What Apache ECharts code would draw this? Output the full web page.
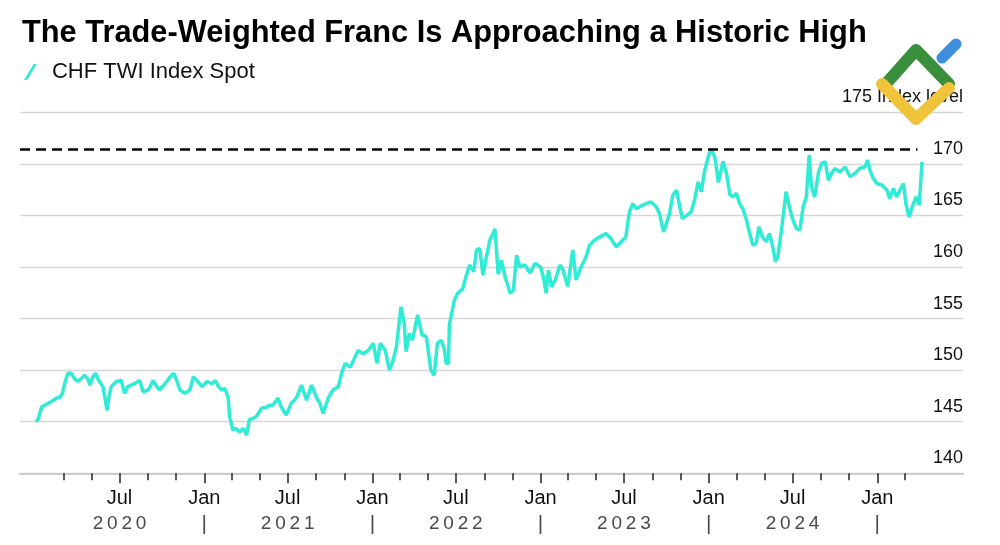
<!DOCTYPE html>
<html>
<head>
<meta charset="utf-8">
<script src="https://cdn.jsdelivr.net/npm/echarts@6/dist/echarts.min.js"></script>
<style>
html,body{margin:0;padding:0;background:#fff;}
#chart{width:1000px;height:545px;}
</style>
</head>
<body>
<div id="chart"></div>
<script>
// ---- data ----
const title = 'The Trade-Weighted Franc Is Approaching a Historic High';
const seriesName = 'CHF TWI Index Spot';
const historicHigh = 171.4;
const dates = [
'2020-01-02','2020-01-07','2020-01-14','2020-01-21','2020-02-02','2020-02-09','2020-02-16','2020-02-23','2020-02-28','2020-03-04',
'2020-03-11','2020-03-18','2020-03-25','2020-04-02','2020-04-09','2020-04-16','2020-04-23','2020-04-28','2020-05-04','2020-05-10',
'2020-05-17','2020-05-26','2020-06-01','2020-06-04','2020-06-08','2020-06-13','2020-06-24','2020-07-05','2020-07-12','2020-07-19',
'2020-08-03','2020-08-14','2020-08-21','2020-09-02','2020-09-12','2020-09-20','2020-09-26','2020-10-08','2020-10-19','2020-10-27',
'2020-11-02','2020-11-09','2020-11-20','2020-12-01','2020-12-08','2020-12-16','2020-12-27','2021-01-07','2021-01-18','2021-01-25',
'2021-02-01','2021-02-08','2021-02-15','2021-02-22','2021-02-25','2021-03-04','2021-03-11','2021-03-19','2021-03-26','2021-04-03',
'2021-04-09','2021-04-16','2021-04-24','2021-05-05','2021-05-16','2021-05-23','2021-05-30','2021-06-10','2021-06-17','2021-06-28',
'2021-07-09','2021-07-20','2021-07-31','2021-08-11','2021-08-22','2021-09-02','2021-09-09','2021-09-16','2021-09-27','2021-10-08',
'2021-10-19','2021-10-26','2021-11-03','2021-11-14','2021-11-21','2021-12-01','2021-12-12','2021-12-23','2022-01-03','2022-01-11',
'2022-01-18','2022-01-29','2022-02-07','2022-02-15','2022-02-22','2022-03-04','2022-03-11','2022-03-15','2022-03-22','2022-03-29',
'2022-04-09','2022-04-19','2022-04-28','2022-05-08','2022-05-15','2022-05-22','2022-05-30','2022-06-06','2022-06-10','2022-06-15',
'2022-06-17','2022-06-28','2022-07-05','2022-07-16','2022-07-23','2022-07-31','2022-08-09','2022-08-15','2022-08-22','2022-08-29',
'2022-09-06','2022-09-13','2022-09-24','2022-10-01','2022-10-08','2022-10-16','2022-10-27','2022-11-03','2022-11-10','2022-11-17',
'2022-11-28','2022-12-09','2022-12-20','2023-01-01','2023-01-07','2023-01-13','2023-01-18','2023-01-25','2023-02-02','2023-02-12',
'2023-02-19','2023-03-01','2023-03-12','2023-03-19','2023-03-30','2023-04-10','2023-04-17','2023-04-28','2023-05-09','2023-05-23',
'2023-06-03','2023-06-14','2023-06-25','2023-07-05','2023-07-13','2023-07-20','2023-07-28','2023-08-08','2023-08-18','2023-08-29',
'2023-09-09','2023-09-16','2023-09-25','2023-10-01','2023-10-08','2023-10-15','2023-10-23','2023-10-30','2023-11-05','2023-11-14',
'2023-11-24','2023-12-02','2023-12-09','2023-12-16','2023-12-23','2024-01-02','2024-01-07','2024-01-11','2024-01-15','2024-01-22',
'2024-02-01','2024-02-09','2024-02-16','2024-02-23','2024-03-01','2024-03-08','2024-03-15','2024-03-23','2024-03-30','2024-04-06',
'2024-04-13','2024-04-19','2024-04-27','2024-05-05','2024-05-12','2024-05-19','2024-05-25','2024-05-30','2024-06-07','2024-06-17',
'2024-06-24','2024-07-02','2024-07-09','2024-07-17','2024-07-24','2024-07-31','2024-08-06','2024-08-11','2024-08-18','2024-08-26',
'2024-09-02','2024-09-10','2024-09-17','2024-09-24','2024-10-01','2024-10-12','2024-10-23','2024-11-03','2024-11-14','2024-11-24',
'2024-12-05','2024-12-11','2024-12-16','2024-12-23','2024-12-31','2025-01-11','2025-01-22','2025-01-28','2025-02-05','2025-02-12',
'2025-02-19','2025-02-27','2025-03-04','2025-03-11','2025-03-18','2025-03-26','2025-04-02','2025-04-08'
];
const values = [
145.0,145.3,146.45,146.6,146.9,147.1,147.3,147.4,147.75,148.7,
149.7,149.7,149.2,148.9,149.2,149.5,149.2,148.55,149.35,149.7,
149.0,148.4,146.9,146.1,147.4,148.4,148.9,149.0,147.75,148.4,
148.7,149.0,147.9,148.1,149.0,148.4,148.1,148.7,149.35,149.7,
149.0,148.1,147.75,148.1,149.35,149.0,148.4,148.9,148.7,149.0,
148.4,148.1,148.2,147.3,145.5,144.2,144.35,144.0,144.35,143.7,
145.2,145.3,145.5,146.3,146.4,146.6,146.6,147.3,146.45,145.65,
146.8,147.3,148.55,147.1,148.55,147.3,146.8,145.8,147.3,148.1,
148.4,149.7,150.65,150.3,150.95,151.9,151.6,151.9,152.6,150.65,
152.6,151.9,150.0,150.95,152.25,156.15,154.55,151.8,153.55,152.9,
155.35,153.4,153.25,150.0,149.5,152.6,152.9,152.1,150.65,150.65,
154.4,156.8,157.45,157.9,159.05,160.2,159.55,161.65,161.8,159.2,
161.1,162.6,163.7,159.3,160.65,159.05,157.45,157.75,161.15,160.0,
160.2,159.4,160.35,160.0,159.05,157.45,159.7,158.1,158.75,160.2,
159.7,158.1,161.65,158.75,160.0,161.0,162.1,162.6,162.9,163.25,
162.75,161.95,162.45,162.9,165.35,166.15,165.65,165.95,166.15,166.3,
165.85,165.2,163.4,164.2,165.2,166.95,167.45,165.85,164.7,165.0,
165.35,166.65,168.25,167.3,169.3,171.0,171.4,171.0,170.5,168.2,
170.25,169.0,167.0,166.8,167.15,166.15,165.65,164.55,163.25,162.1,
162.3,163.9,162.9,162.45,163.25,161.95,160.5,161.0,163.6,167.3,
165.85,164.55,163.75,163.6,165.85,166.8,170.85,167.8,166.8,169.1,
170.05,170.2,168.4,169.1,169.55,169.2,169.7,168.75,169.1,169.55,
169.7,170.35,169.4,168.6,168.1,167.95,167.45,166.65,167.6,166.8,
167.45,168.1,166.15,164.85,165.85,166.8,166.0,170.2
];
const minorTickDates = [
'2020-03-01','2020-05-01','2020-07-01','2020-09-01','2020-11-01',
'2021-01-01','2021-03-01','2021-05-01','2021-07-01','2021-09-01','2021-11-01',
'2022-01-01','2022-03-01','2022-05-01','2022-07-01','2022-09-01','2022-11-01',
'2023-01-01','2023-03-01','2023-05-01','2023-07-01','2023-09-01','2023-11-01',
'2024-01-01','2024-03-01','2024-05-01','2024-07-01','2024-09-01','2024-11-01',
'2025-01-01','2025-03-01'
];
const majorTickDates = ['2020-07-01','2021-01-01','2021-07-01','2022-01-01','2022-07-01','2023-01-01','2023-07-01','2024-01-01','2024-07-01','2025-01-01'];
const monthLabels = ['Jul','Jan','Jul','Jan','Jul','Jan','Jul','Jan','Jul','Jan'];
const yearLabels = ['2020','|','2021','|','2022','|','2023','|','2024','|'];
const axisStart = '2019-11-28';
const axisEnd = '2025-07-06';
const highLineEnd = '2025-03-29';
const yMin = 140, yMax = 175, yStep = 5;
const yUnit = 'Index level';

// ---- chart ----
const ts = s => Date.UTC(+s.slice(0, 4), +s.slice(5, 7) - 1, +s.slice(8, 10));
const seriesData = dates.map((d, i) => [ts(d), values[i]]);
const majorTs = majorTickDates.map(ts);
const spaced = s => s.split('').join('\u2009');
const nearestMajor = v => {
  let best = 0;
  for (let k = 0; k < majorTs.length; k++) if (Math.abs(majorTs[k] - v) < Math.abs(majorTs[best] - v)) best = k;
  return best;
};
const FONT = 'Liberation Sans, Arial, sans-serif';

const chart = echarts.init(document.getElementById('chart'), null, {renderer: 'canvas'});
chart.setOption({
  animation: false,
  backgroundColor: '#ffffff',
  textStyle: {fontFamily: FONT},
  title: {
    text: title, left: 22, top: 18, padding: 0,
    textStyle: {fontSize: 30.8, fontWeight: 'bold', color: '#000', fontFamily: FONT}
  },
  legend: {
    left: 24, top: 61, padding: 0,
    icon: 'path://M9,0 L12,0 L3,15 L0,15 Z',
    itemWidth: 13, itemHeight: 16, itemGap: 10,
    textStyle: {fontSize: 22, color: '#111', padding: [0, 0, 0, 10], fontFamily: FONT},
    data: [seriesName]
  },
  grid: {left: 20, right: 37, top: 112.3, bottom: 71.7},
  xAxis: [{
    type: 'value', min: ts(axisStart), max: ts(axisEnd),
    axisLine: {show: true, lineStyle: {color: '#cccccc', width: 2}},
    axisTick: {show: true, customValues: minorTickDates.map(ts), length: 7, lineStyle: {color: '#222', width: 1.5}},
    axisLabel: {show: false},
    splitLine: {show: false}
  }, {
    type: 'value', min: ts(axisStart), max: ts(axisEnd), position: 'bottom',
    axisLine: {show: false},
    axisTick: {show: true, customValues: majorTs, length: 10, lineStyle: {color: '#222', width: 1.5}},
    axisLabel: {
      show: true, customValues: majorTs, margin: 13, align: 'center',
      formatter: function (v) {
        const i = nearestMajor(v);
        const y = yearLabels[i];
        return '{m|' + monthLabels[i] + '}\n' + (y === '|' ? '{s||}' : '{y|' + spaced(y) + '}');
      },
      rich: {
        m: {fontSize: 20, color: '#111', lineHeight: 25, fontFamily: FONT},
        y: {fontSize: 19, color: '#4a4a4a', lineHeight: 25, fontFamily: FONT},
        s: {fontSize: 21, color: '#4a4a4a', lineHeight: 25, fontFamily: FONT}
      }
    },
    splitLine: {show: false}
  }],
  yAxis: {
    type: 'value', position: 'right', min: yMin, max: yMax, interval: yStep,
    axisLine: {show: false}, axisTick: {show: false},
    splitLine: {show: true, lineStyle: {color: '#d6d6d6', width: 1.3}},
    axisLabel: {
      inside: true, margin: 0, fontSize: 18, color: '#111', fontFamily: FONT,
      verticalAlign: 'bottom', padding: [0, 0, 6, 0],
      formatter: v => v === yMax ? v + ' ' + yUnit : String(v)
    }
  },
  series: [{
    name: seriesName, type: 'line', xAxisIndex: 0,
    data: seriesData, showSymbol: false, symbol: 'none',
    lineStyle: {color: '#30ecd6', width: 3.5},
    itemStyle: {color: '#30ecd6'},
    markLine: {
      silent: true, symbol: 'none', label: {show: false},
      lineStyle: {color: '#000', width: 2.5, type: [10, 6]},
      data: [[{coord: [ts(axisStart), historicHigh]}, {coord: [ts(highLineEnd), historicHigh]}]]
    }
  }],
  graphic: [
    {type: 'polyline', shape: {points: [[884, 86], [916, 50], [949, 84]]}, style: {stroke: '#3a8f3c', lineWidth: 12, fill: null, lineCap: 'round', lineJoin: 'round'}, z: 100},
    {type: 'polyline', shape: {points: [[942, 58], [956, 44]]}, style: {stroke: '#3d8fdc', lineWidth: 11, fill: null, lineCap: 'round'}, z: 100},
    {type: 'polyline', shape: {points: [[882, 84], [916, 119], [949, 88]]}, style: {stroke: '#f0c43a', lineWidth: 12, fill: null, lineCap: 'round', lineJoin: 'round'}, z: 101}
  ]
});
</script>
</body>
</html>
